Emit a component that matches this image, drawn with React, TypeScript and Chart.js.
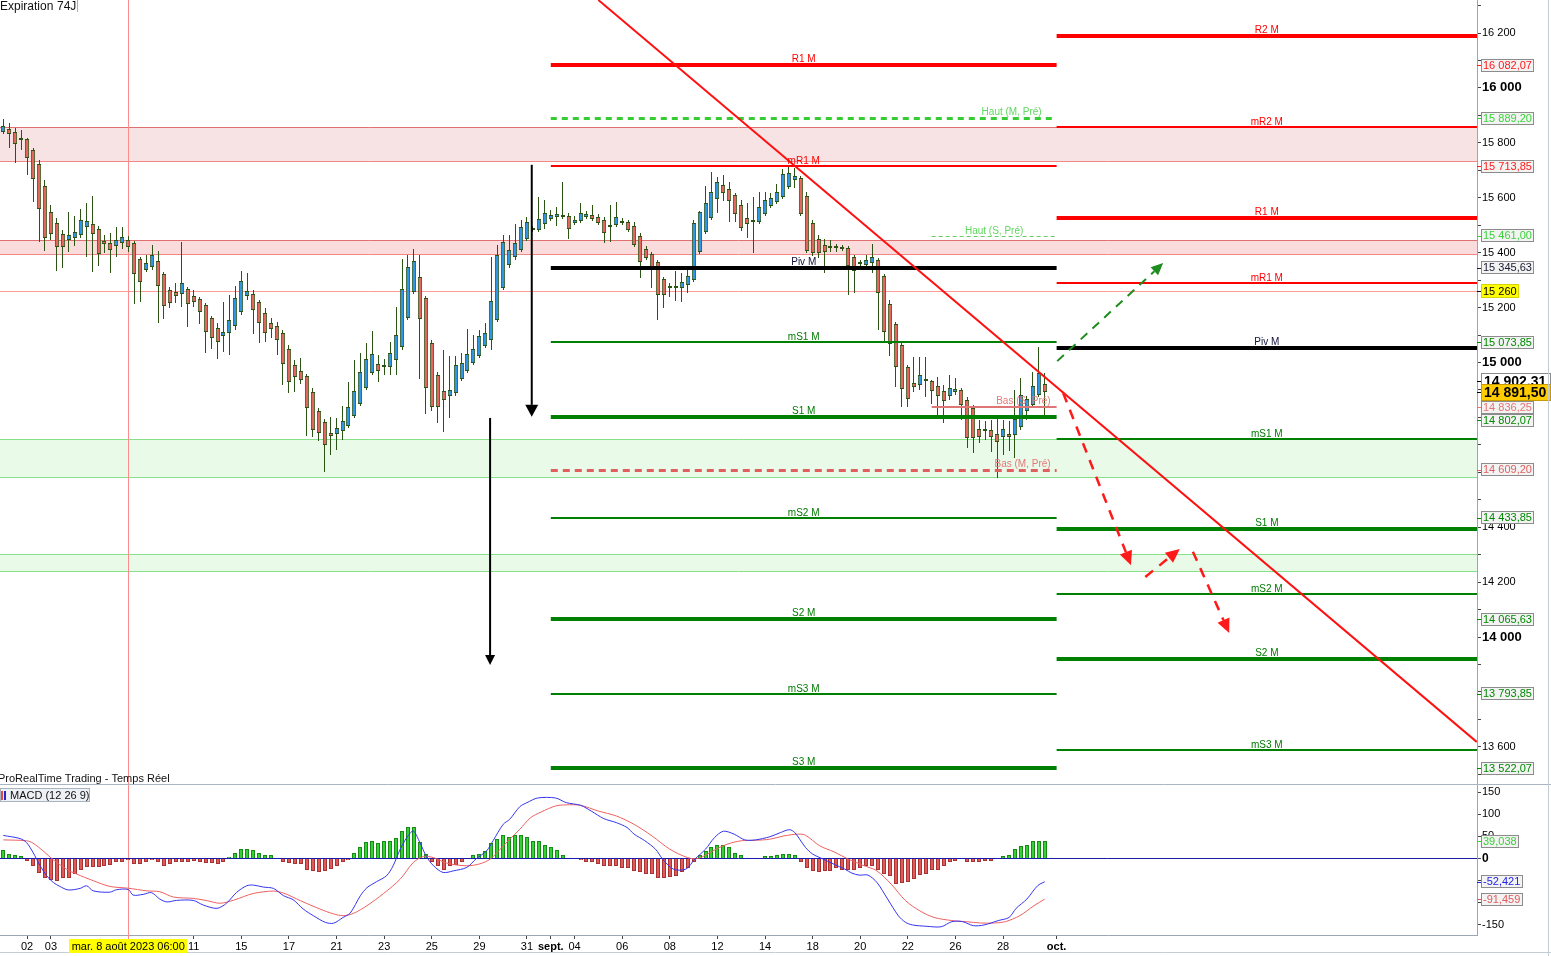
import React, { useEffect, useRef } from 'react';
import { Chart, registerables } from 'chart.js';

Chart.register(...registerables);

const FONT = "'Liberation Sans', Arial, sans-serif";

// ---------------- Candles (4h bars, 1 Aug -> 29 Sep 2023) ----------------
const openP = [15838,15850,15841,15818,15814,15774,15723,15643,15548,15508,
15468,15446,15453,15464,15493,15504,15486,15443,15435,15424,
15435,15446,15435,15377,15337,15348,15370,15322,15264,15257,
15249,15268,15242,15231,15209,15162,15126,15097,15107,15133,
15184,15242,15249,15220,15180,15144,15133,15107,15049,14991,
14969,14951,14893,14823,14783,14743,14739,14750,14769,14805,
14849,14907,14962,14995,14987,14984,15009,15056,15162,15257,
15311,15235,15071,14955,14896,14878,14889,14940,14969,14998,
15024,15060,15082,15155,15271,15355,15384,15410,15450,15486,
15483,15504,15523,15530,15537,15534,15508,15515,15530,15537,
15530,15519,15497,15501,15515,15512,15497,15461,15413,15395,
15366,15304,15275,15275,15271,15282,15300,15402,15475,15526,
15595,15647,15632,15610,15574,15526,15515,15512,15541,15570,
15585,15603,15639,15665,15672,15606,15508,15450,15428,15417,
15417,15416,15417,15384,15359,15355,15362,15373,15315,15213,
15140,15064,14984,14925,14918,14933,14933,14914,14896,14878,
14893,14900,14863,14834,14758,14754,14754,14739,14729,14739,
14736,14765,14823,14845,14882,14922];
const highP = [15887,15872,15854,15847,15818,15781,15738,15665,15574,15526,
15483,15549,15534,15559,15581,15606,15497,15464,15473,15495,
15495,15461,15443,15384,15391,15428,15407,15330,15275,15289,
15440,15275,15264,15239,15217,15169,15144,15220,15246,15279,
15333,15326,15264,15228,15199,15162,15147,15118,15064,15009,
15016,14958,14907,14834,14794,14801,14798,14842,14929,15009,
15035,15071,15115,15027,15013,15075,15202,15377,15391,15413,
15391,15242,15082,14965,15046,15024,15024,15035,15122,15100,
15118,15144,15384,15428,15464,15464,15504,15519,15530,15497,
15603,15592,15555,15566,15657,15545,15534,15581,15552,15574,
15541,15530,15574,15585,15526,15519,15512,15472,15424,15402,
15373,15311,15289,15333,15326,15348,15519,15552,15643,15694,
15676,15683,15657,15617,15592,15581,15603,15621,15621,15617,
15650,15705,15712,15708,15679,15621,15519,15464,15450,15446,
15432,15428,15424,15391,15373,15391,15432,15381,15322,15228,
15147,15071,14991,15020,15020,15020,14936,14947,14918,14955,
14944,14907,14874,14845,14791,14787,14791,14794,14791,14787,
14900,14944,14878,14965,15056,14962];
const lowP = [15832,15781,15727,15774,15683,15586,15440,15407,15446,15334,
15345,15404,15424,15453,15385,15331,15353,15399,15327,15385,
15413,15402,15213,15221,15330,15337,15144,15158,15199,15217,
15202,15129,15202,15140,15035,15049,15013,15038,15027,15118,
15173,15228,15104,15071,15075,15089,15027,14918,14889,14893,
14922,14732,14729,14714,14601,14663,14681,14718,14761,14798,
14842,14900,14955,14929,14955,14955,14955,15046,15155,15249,
14940,14812,14823,14780,14747,14798,14878,14933,14962,14991,
15016,15053,15046,15147,15264,15344,15373,15402,15443,15475,
15475,15486,15515,15497,15523,15450,15501,15508,15523,15515,
15501,15435,15439,15493,15501,15475,15421,15308,15373,15271,
15155,15199,15239,15224,15220,15253,15293,15395,15468,15519,
15545,15588,15512,15512,15479,15453,15399,15504,15534,15563,
15577,15595,15632,15636,15534,15399,15388,15381,15326,15402,
15402,15406,15246,15253,15344,15344,15326,15118,15075,15024,
14911,14838,14838,14893,14900,14874,14849,14809,14780,14863,
14882,14791,14689,14670,14707,14718,14674,14579,14663,14678,
14652,14754,14791,14834,14874,14809];
const closeP = [15862,15831,15796,15810,15745,15668,15559,15453,15468,15421,
15421,15464,15475,15519,15515,15468,15395,15432,15410,15446,
15457,15421,15322,15293,15362,15391,15279,15206,15217,15242,
15289,15213,15220,15184,15111,15089,15075,15111,15155,15235,
15297,15260,15191,15144,15107,15122,15082,14995,14929,14947,
14936,14834,14754,14743,14700,14732,14761,14787,14838,14896,
14965,15013,15031,14969,14984,15035,15100,15268,15348,15370,
15158,14907,14838,14838,14863,14900,14991,14998,15031,15049,
15097,15107,15224,15391,15439,15410,15435,15493,15512,15483,
15523,15545,15537,15541,15530,15486,15519,15545,15541,15523,
15508,15472,15495,15530,15508,15483,15428,15366,15381,15348,
15246,15246,15272,15271,15293,15315,15508,15548,15581,15621,
15657,15617,15588,15541,15490,15504,15512,15566,15592,15599,
15621,15686,15690,15679,15541,15406,15399,15399,15402,15424,
15418,15415,15351,15333,15360,15373,15384,15253,15111,15067,
14984,14903,14867,14911,14955,14931,14896,14878,14860,14907,
14903,14845,14725,14725,14729,14752,14729,14710,14758,14729,
14794,14882,14867,14914,14962,14891.5];

// ---------------- MACD (12 26 9) ----------------
const macdHist = [18.7,11,7.5,4.5,-5,-16.5,-33,-45,-48,-50,
-45,-43,-34,-25.5,-19,-20,-19,-16.5,-14,-9,
-7.5,-3,-13,-12,-7.5,-3,-9,-16,-13,-9,
-7.5,-7.5,-5,-7.5,-11,-11,-12,-7,3,13,
22,22,20,13,9,7,1,-9,-11,-12,
-12,-27,-29,-31,-29,-24,-18,-9,-3,13,
25,37,39,36,39,39,47,63,70,70,
38,11,-7,-16,-25,-18,-14,-7,-2,7,
11,18,34,45,54,49,52,52,48,39,
39,31.5,25,20,9,2,1,-3,-7,-9,
-13.5,-18,-18,-18,-21,-22.5,-29,-30,-34,-36,
-45,-45,-41,-40.5,-31.5,-22.5,-7,9,16,27,
31.5,31.5,25,13.5,7,1,2,2,4.5,4.5,
9,11,11,9,-9,-22.5,-29,-31.5,-29,-29,
-22.5,-25.5,-25.5,-27,-22.5,-18,-18,-25.5,-36,-40.5,
-58.5,-56,-54,-47,-38,-36,-27,-25,-16,-7,
-5,-2,-7,-9,-7.5,-5,-5,2,4.5,7,
22.5,29,31.5,40.5,40.5,39.038];
const macdLineIdx = [0,2.8,3.9,5.0,6.2,7.3,8.4,9.5,10.9,12.9,14.0,15.1,17.9,19.0,21.0,21.8,23.5,24.9,26.3,27.5,
29.1,31.9,33.6,35.9,37.5,39.2,40.9,42.0,43.7,45.4,47.1,48.7,50.4,52.1,54.1,55.5,57.1,58.3,60.0,61.1,
62.7,64.4,65.5,66.7,67.8,68.9,70.0,71.1,72.3,73.9,75.6,77.9,79.5,81.2,82.3,84.0,85.1,86.8,88.0,89.8,
92.8,94.6,97.0,98.8,100.9,103.0,104.8,106.0,107.8,109.6,110.8,112.6,114.7,116.2,118.0,119.5,121.0,122.8,124.6,126.4,
128.8,130.6,132.1,133.0,134.8,136.0,137.8,139.6,141.4,142.6,143.8,145.3,146.8,148.6,150.4,151.6,152.8,155.2,157.6,159.4,
161.2,163.0,164.8,167.2,169.0,170.2,172.0,173.8,175];
const macdLineVal = [52,45,36,13.5,-16.5,-39,-54,-63,-71,-67.5,-61.5,-73,-76,-70.5,-70,-82.5,-81,-77,-91.5,-98,
-94.5,-94.5,-105,-112.5,-101,-76.5,-61.5,-60,-64.5,-67.5,-84,-93,-114,-129,-144,-146,-133,-123,-84,-66,
-52.5,-39,-16.5,21,47,62,36,4.5,-16.5,-31.5,-28,-20,0,17,40,77,88.5,117,126,136.5,
136.5,126,120,107,90,81,70,55,40,21,-1.5,-24,-24,-1.5,21,47,61.5,55,42,42,
49,58.5,65,58.5,25,10,-1.5,-13,-24,-33,-37.5,-37.5,-54,-91.5,-129,-144,-150,-153,-154,-142.5,
-142.5,-151.5,-150,-140,-133,-112.5,-91.5,-61.5,-52.421];
const signalIdx = [0,3.9,5.0,6.7,8.4,10.6,12.3,15.1,17.9,21.0,24.1,26.3,28.6,31.9,34.2,36.4,38.7,42.0,45.4,47.1,
49.9,53.2,55.5,57.1,58.8,61.1,63.9,66.7,68.9,70.6,72.3,74.5,77.9,80.1,81.8,83.5,85.1,86.8,88.6,90.4,
92.8,94.6,97.0,100.0,103.0,106.0,109.0,112.0,115.0,116.8,119.2,121.6,124.0,126.4,128.8,131.2,133.6,134.8,137.2,139.6,
142.0,144.4,146.8,149.2,151.6,154.0,156.4,159.4,161.8,164.2,166.6,168.4,170.8,173.2,175];
const signalVal = [42,40,34.5,17,-3,-24,-35,-50,-63,-67,-73,-75,-87,-90,-95,-101,-94,-79,-73.5,-78,
-95,-114,-125,-129,-124,-106.5,-79,-46.5,-9,4.5,2,-10.5,-16.5,-12,-1.5,21,43.5,66,92,105,
118.5,121,120,107,96,77,51,21,2,0,17,32,40,41,43.5,51,55,52.5,28.5,15,
-1.5,-15,-28,-58,-95,-118,-133,-140,-142.5,-145.5,-145.5,-142.5,-129,-106.5,-91.459];
const macdLast = -52.421;
const signalLast = -91.459;
const histLast = 39.038;

// ---------------- Axes ----------------
const xTickIdx = [4,8,32,40,48,56,64,72,80,88,92,96,104,112,120,128,136,144,152,160,168,177];
const xTickLabels = ['02','03','11','15','17','21','23','25','29','31','sept.','04','06','08','12','14','18','20','22','26','28','oct.'];
const xTickBold = ['sept.','oct.'];
const crossIdx = 21;
const crossLabel = 'mar. 8 août 2023 06:00';
const xMin = -0.555;
const xMax = 247.64;

const priceTicks = [13500,13600,13700,13800,13900,14000,14100,14200,14300,14400,14500,14600,14700,14800,14900,
15000,15100,15200,15300,15400,15500,15600,15700,15800,15900,16000,16100,16200,16300];
const priceMin = 13464.9;
const priceMax = 16320.2;
const macdTicks = [-150,-100,-50,0,50,100,150];
const macdMin = -172.6;
const macdMax = 165.8;

// ---------------- Levels ----------------
const septStartIdx = 92;
const octStartIdx = 177;
const weekStartIdx = 156;
const prevMonthPivotNames = ['R1 M','mR1 M','Piv M','mS1 M','S1 M','mS2 M','S2 M','mS3 M','S3 M'];
const prevMonthPivotValues = [16082.07,15713.85,15345.63,15073.85,14802.07,14433.85,14065.63,13793.85,13522.07];
const newMonthPivotNames = ['R2 M','mR2 M','R1 M','mR1 M','Piv M','mS1 M','S1 M','mS2 M','S2 M','mS3 M'];
const newMonthPivotValues = [16188.7,15858.0,15527.3,15290.5,15053.7,14723.0,14392.3,14155.5,13918.7,13588.0];
const prevMonthHigh = 15889.2;
const prevMonthLow = 14609.2;
const prevWeekHigh = 15461.0;
const prevWeekLow = 14836.25;
const userLevel = 15260;
const bandLow = [15734, 15394, 14582, 14240];
const bandHigh = [15859, 15445, 14720, 14302];
const bandKind = ['pink', 'pink', 'green', 'green'];

const trendIdx = [100, 247.6];
const trendPrice = [16320, 13618];

const arrowFromIdx = [88.8, 81.8, 177.1, 178.1, 191.9, 199.9];
const arrowFromPrice = [15720, 14798, 15005, 14889, 14219, 14311];
const arrowToIdx = [88.8, 81.8, 194.9, 189.5, 197.7, 206.0];
const arrowToPrice = [14802, 13898, 15362, 14262, 14321, 14015];
const arrowColor = ['#000000', '#000000', '#1e8c1e', '#ff1a1a', '#ff1a1a', '#ff1a1a'];
const arrowWidth = [2, 2, 2, 2.5, 2.5, 2.5];
const arrowDash = [[], [], [9, 7], [10, 8], [10, 8], [10, 8]];
const arrowHeadLen = [12, 10, 12, 14, 14, 14];
const arrowHeadW = [13, 10, 11, 13, 13, 13];

const axisBoxValues = [16082.07, 15889.2, 15713.85, 15461.0, 15345.63, 15073.85, 14836.25, 14802.07, 14609.2, 14433.85, 14065.63, 13793.85, 13522.07];
const axisBoxColors = ['#ff1a1a', '#3ad43a', '#ff1a1a', '#3ad43a', '#1a1a33', '#008a00', '#e87474', '#008a00', '#e06060', '#008a00', '#008a00', '#008a00', '#008a00'];
const lastPrice = 14891.5;
const prevQuote = 14902.31;

// ---------------- helpers ----------------
const fmtFr = (v: number, dec: number) => {
  const s = Math.abs(v).toFixed(dec);
  const parts = s.split('.');
  const ip = parts[0].replace(/\B(?=(\d{3})+(?!\d))/g, ' ');
  return (v < 0 ? '-' : '') + ip + (parts[1] ? ',' + parts[1] : '');
};

function hLine(ctx: any, x1: number, x2: number, y: number, w: number, color: string, dash: number[] = []) {
  ctx.save();
  ctx.strokeStyle = color;
  ctx.lineWidth = w;
  ctx.setLineDash(dash);
  const yy = w % 2 === 1 ? Math.round(y) + 0.5 : Math.round(y);
  ctx.beginPath();
  ctx.moveTo(x1, yy);
  ctx.lineTo(x2, yy);
  ctx.stroke();
  ctx.restore();
}

function drawArrow(ctx: any, x1: number, y1: number, x2: number, y2: number, color: string, width: number, dash: number[], headLen: number, headW: number) {
  const ang = Math.atan2(y2 - y1, x2 - x1);
  const bx = x2 - headLen * Math.cos(ang);
  const by = y2 - headLen * Math.sin(ang);
  ctx.save();
  ctx.strokeStyle = color;
  ctx.fillStyle = color;
  ctx.lineWidth = width;
  ctx.setLineDash(dash);
  ctx.beginPath();
  ctx.moveTo(x1, y1);
  ctx.lineTo(bx, by);
  ctx.stroke();
  ctx.setLineDash([]);
  const nx = -Math.sin(ang), ny = Math.cos(ang);
  ctx.beginPath();
  ctx.moveTo(x2, y2);
  ctx.lineTo(bx + nx * headW / 2, by + ny * headW / 2);
  ctx.lineTo(bx - nx * headW / 2, by - ny * headW / 2);
  ctx.closePath();
  ctx.fill();
  ctx.restore();
}

function pivotStyle(name: string) {
  if (name.startsWith('Piv')) return { color: '#000000', width: 4, text: '#10103a' };
  const minor = name.startsWith('m');
  const red = name.indexOf('R') >= 0;
  return { color: red ? '#ff0000' : '#008000', width: minor ? 2 : 4, text: red ? '#ff0000' : '#007a00' };
}

function axisBox(ctx: any, axisX: number, cy: number, text: string, o: any) {
  ctx.save();
  ctx.font = o.font;
  const x0 = axisX + 4;
  const w = o.fullWidth ? o.fullWidth : Math.ceil(ctx.measureText(text).width) + o.padX * 2;
  const h = o.h;
  const top = Math.round(cy - h / 2);
  ctx.strokeStyle = o.tick;
  ctx.lineWidth = 1;
  ctx.beginPath();
  ctx.moveTo(axisX, Math.round(cy) + 0.5);
  ctx.lineTo(x0, Math.round(cy) + 0.5);
  ctx.stroke();
  ctx.fillStyle = o.bg;
  ctx.fillRect(x0, top, w, h);
  if (o.border) {
    ctx.strokeStyle = o.border;
    ctx.strokeRect(x0 + 0.5, top + 0.5, w - 1, h - 1);
  }
  ctx.fillStyle = o.color;
  ctx.textBaseline = 'middle';
  ctx.textAlign = 'left';
  ctx.fillText(text, x0 + o.padX, top + h / 2 + 0.5);
  ctx.restore();
}

// snap bar elements to whole pixels so 1px wicks and 5px bodies stay crisp
const snapBars = {
  id: 'snapBars',
  afterDatasetsUpdate(chart: any) {
    chart.data.datasets.forEach((ds: any, di: number) => {
      const meta = chart.getDatasetMeta(di);
      if (meta.type !== 'bar') return;
      meta.data.forEach((el: any) => {
        const w = el.width;
        const odd = Math.round(w) % 2 === 1;
        el.x = odd ? Math.floor(el.x) + 0.5 : Math.round(el.x);
        el.y = Math.round(el.y);
        el.base = Math.round(el.base);
      });
    });
  },
};

// ---------------- plugins ----------------
const overlayA = {
  id: 'overlayA',
  beforeDatasetsDraw(chart: any) {
    const { ctx, chartArea: ca, scales } = chart;
    const x = scales.x, y = scales.y;
    ctx.save();
    ctx.beginPath();
    ctx.rect(ca.left, ca.top, ca.right - ca.left, ca.bottom - ca.top);
    ctx.clip();
    bandLow.forEach((lo, i) => {
      const yt = Math.round(y.getPixelForValue(bandHigh[i]));
      const yb = Math.round(y.getPixelForValue(lo));
      const pink = bandKind[i] === 'pink';
      ctx.fillStyle = pink ? (i === 0 ? '#f7e3e3' : '#fbdcdc') : '#e9fae9';
      ctx.fillRect(ca.left, yt, ca.right - ca.left, yb - yt);
      hLine(ctx, ca.left, ca.right, yt, 1, pink ? '#e07070' : '#88e088');
      hLine(ctx, ca.left, ca.right, yb, 1, pink ? '#f08888' : '#88e088');
    });
    hLine(ctx, ca.left, ca.right, y.getPixelForValue(userLevel), 1, '#ff9a9a');
    const cx = Math.round(x.getPixelForValue(crossIdx)) + 0.5;
    ctx.strokeStyle = '#ff8c8c';
    ctx.lineWidth = 1;
    ctx.beginPath();
    ctx.moveTo(cx, ca.top);
    ctx.lineTo(cx, ca.bottom);
    ctx.stroke();
    ctx.restore();
  },
  afterDatasetsDraw(chart: any) {
    const { ctx, chartArea: ca, scales } = chart;
    const x = scales.x, y = scales.y;
    ctx.save();
    ctx.beginPath();
    ctx.rect(ca.left, ca.top, ca.right - ca.left, ca.bottom - ca.top);
    ctx.clip();
    const xs = x.getPixelForValue(septStartIdx);
    const xo = x.getPixelForValue(octStartIdx);
    const xw = x.getPixelForValue(weekStartIdx);
    hLine(ctx, xw, xo, y.getPixelForValue(prevWeekHigh), 1, '#66cc66', [4, 3]);
    hLine(ctx, xw, xo, y.getPixelForValue(prevWeekLow), 2, '#e07575');
    hLine(ctx, xs, xo, y.getPixelForValue(prevMonthHigh), 3, '#33cc33', [6, 5]);
    hLine(ctx, xs, xo, y.getPixelForValue(prevMonthLow), 3, '#e06060', [7, 5]);
    prevMonthPivotValues.forEach((v, i) => {
      const st = pivotStyle(prevMonthPivotNames[i]);
      hLine(ctx, xs, xo, y.getPixelForValue(v), st.width, st.color);
    });
    newMonthPivotValues.forEach((v, i) => {
      const st = pivotStyle(newMonthPivotNames[i]);
      hLine(ctx, xo, ca.right, y.getPixelForValue(v), st.width, st.color);
    });
    ctx.strokeStyle = '#ff1010';
    ctx.lineWidth = 2;
    ctx.setLineDash([]);
    ctx.beginPath();
    ctx.moveTo(x.getPixelForValue(trendIdx[0]), y.getPixelForValue(trendPrice[0]));
    ctx.lineTo(x.getPixelForValue(trendIdx[1]), y.getPixelForValue(trendPrice[1]));
    ctx.stroke();
    arrowFromIdx.forEach((fx, i) => {
      drawArrow(ctx, x.getPixelForValue(fx), y.getPixelForValue(arrowFromPrice[i]),
        x.getPixelForValue(arrowToIdx[i]), y.getPixelForValue(arrowToPrice[i]),
        arrowColor[i], arrowWidth[i], arrowDash[i], arrowHeadLen[i], arrowHeadW[i]);
    });
    ctx.font = '10px ' + FONT;
    ctx.textBaseline = 'alphabetic';
    ctx.textAlign = 'center';
    const midL = (xs + xo) / 2, midR = (xo + ca.right) / 2;
    prevMonthPivotValues.forEach((v, i) => {
      const st = pivotStyle(prevMonthPivotNames[i]);
      ctx.fillStyle = st.text;
      ctx.fillText(prevMonthPivotNames[i], midL, Math.round(y.getPixelForValue(v)) - st.width / 2 - 1);
    });
    newMonthPivotValues.forEach((v, i) => {
      const st = pivotStyle(newMonthPivotNames[i]);
      ctx.fillStyle = st.text;
      ctx.fillText(newMonthPivotNames[i], midR, Math.round(y.getPixelForValue(v)) - st.width / 2 - 1);
    });
    ctx.fillStyle = '#5fd85f';
    ctx.fillText('Haut (S, Pré)', (xw + xo) / 2, Math.round(y.getPixelForValue(prevWeekHigh)) - 2);
    ctx.textAlign = 'right';
    ctx.fillText('Haut (M, Pré)', xo - 15, Math.round(y.getPixelForValue(prevMonthHigh)) - 3);
    ctx.fillStyle = '#e87878';
    ctx.fillText('Bas (S, Pré)', xo - 6, Math.round(y.getPixelForValue(prevWeekLow)) - 3);
    ctx.fillText('Bas (M, Pré)', xo - 6, Math.round(y.getPixelForValue(prevMonthLow)) - 3);
    ctx.restore();

    ctx.save();
    ctx.fillStyle = '#111';
    ctx.textAlign = 'left';
    ctx.textBaseline = 'alphabetic';
    ctx.font = '12px ' + FONT;
    ctx.fillText('Expiration', 0, 10);
    ctx.fillText('74J', 57, 10);
    ctx.strokeStyle = '#a8b0b8';
    ctx.beginPath();
    ctx.moveTo(77.5, 0);
    ctx.lineTo(77.5, 12);
    ctx.stroke();
    ctx.font = '11px ' + FONT;
    ctx.fillText('ProRealTime Trading - Temps Réel', -2, 782);
    ctx.restore();
  },
  afterDraw(chart: any) {
    const { ctx, chartArea: ca, scales } = chart;
    const y = scales.y;
    const items = axisBoxValues.map((v, i) => ({ v, yy: y.getPixelForValue(v), color: axisBoxColors[i] }))
      .sort((a, b) => a.yy - b.yy);
    for (let k = 1; k < items.length; k++) {
      if (items[k].yy - items[k - 1].yy < 13) items[k].yy = items[k - 1].yy + 13;
    }
    items.forEach((it) => {
      axisBox(ctx, ca.right, it.yy, fmtFr(it.v, 2), { font: '11px ' + FONT, padX: 2, h: 13, bg: '#f3f3f3', border: '#8c8c8c', color: it.color, tick: it.color });
    });
    axisBox(ctx, ca.right, y.getPixelForValue(userLevel), fmtFr(userLevel, 0), { font: '11px ' + FONT, padX: 2, h: 14, bg: '#ffff00', border: '#d6d600', color: '#000', tick: '#000' });
    axisBox(ctx, ca.right, y.getPixelForValue(prevQuote) - 8, fmtFr(prevQuote, 2), { font: 'bold 14px ' + FONT, padX: 3, h: 17, bg: '#ffffff', border: '#8c8c8c', color: '#000', tick: '#000', fullWidth: 70 });
    axisBox(ctx, ca.right, y.getPixelForValue(lastPrice), fmtFr(lastPrice, 2), { font: 'bold 14px ' + FONT, padX: 3, h: 17, bg: '#ffcc00', border: '#c89a00', color: '#000', tick: '#000', fullWidth: 70 });
    ctx.save();
    ctx.strokeStyle = '#c4ccd4';
    ctx.beginPath();
    ctx.moveTo(1548.5, 0);
    ctx.lineTo(1548.5, chart.height);
    ctx.stroke();
    ctx.restore();
  },
};

const overlayB = {
  id: 'overlayB',
  beforeDatasetsDraw(chart: any) {
    const { ctx, chartArea: ca, scales } = chart;
    const x = scales.x, y = scales.y;
    ctx.save();
    const cx = Math.round(x.getPixelForValue(crossIdx)) + 0.5;
    ctx.strokeStyle = '#ff8c8c';
    ctx.lineWidth = 1;
    ctx.beginPath();
    ctx.moveTo(cx, 0);
    ctx.lineTo(cx, ca.bottom + 4);
    ctx.stroke();
    hLine(ctx, ca.left, ca.right, y.getPixelForValue(0), 1, '#1a1aa8');
    ctx.restore();
  },
  afterDraw(chart: any) {
    const { ctx, chartArea: ca, scales } = chart;
    const x = scales.x, y = scales.y;
    hLine(ctx, 0, chart.width, 0, 1, '#a9b6c2');
    hLine(ctx, 0, chart.width, 168, 1, '#c4ccd4');
    ctx.save();
    ctx.strokeStyle = '#c4ccd4';
    ctx.beginPath();
    ctx.moveTo(1548.5, 0);
    ctx.lineTo(1548.5, chart.height);
    ctx.stroke();
    ctx.restore();
    axisBox(ctx, ca.right, y.getPixelForValue(histLast), fmtFr(histLast, 3), { font: '11px ' + FONT, padX: 2, h: 13, bg: '#f3f3f3', border: '#8c8c8c', color: '#3ccf3c', tick: '#3ccf3c' });
    axisBox(ctx, ca.right, y.getPixelForValue(macdLast), fmtFr(macdLast, 3), { font: '11px ' + FONT, padX: 2, h: 13, bg: '#f3f3f3', border: '#8c8c8c', color: '#2323e8', tick: '#2323e8' });
    axisBox(ctx, ca.right, y.getPixelForValue(signalLast), fmtFr(signalLast, 3), { font: '11px ' + FONT, padX: 2, h: 13, bg: '#f3f3f3', border: '#8c8c8c', color: '#e05c5c', tick: '#e05c5c' });
    ctx.save();
    ctx.fillStyle = '#edf1f5';
    ctx.fillRect(0, 4, 90, 14);
    ctx.strokeStyle = '#a9b3bd';
    ctx.strokeRect(0.5, 4.5, 89, 13);
    ctx.fillStyle = '#e04848';
    ctx.fillRect(1, 7, 2, 9);
    ctx.fillStyle = '#2424d0';
    ctx.fillRect(4, 7, 2, 9);
    ctx.fillStyle = '#111';
    ctx.font = '11px ' + FONT;
    ctx.textBaseline = 'middle';
    ctx.textAlign = 'left';
    ctx.fillText('MACD (12 26 9)', 10, 11.5);
    ctx.font = '11px ' + FONT;
    const cx = x.getPixelForValue(crossIdx);
    const w = Math.ceil(ctx.measureText(crossLabel).width) + 4;
    ctx.fillStyle = '#ffff00';
    ctx.fillRect(Math.round(cx - w / 2), 155, w, 14);
    ctx.fillStyle = '#000';
    ctx.textAlign = 'center';
    ctx.fillText(crossLabel, cx, 162.5);
    ctx.restore();
  },
};

function yAxisFit(scale: any) {
  scale.width = 74;
  scale.paddingTop = 0;
  scale.paddingBottom = 0;
}

export default function App() {
  const refA = useRef<HTMLCanvasElement>(null);
  const refB = useRef<HTMLCanvasElement>(null);

  useEffect(() => {
    const bodyColors = openP.map((o, i) => (closeP[i] >= o ? '#2f95e6' : '#e4675f'));
    const chartA = new Chart(refA.current as HTMLCanvasElement, {
      type: 'bar',
      data: {
        datasets: [
          {
            label: 'bodies',
            data: openP.map((o, i) => ({ x: i, y: [o, closeP[i]] })) as any,
            backgroundColor: bodyColors,
            borderColor: '#2b5314',
            borderWidth: 1,
            borderSkipped: false,
            maxBarThickness: 5,
            minBarLength: 2,
            grouped: false,
            order: 1,
          } as any,
          {
            label: 'wicks',
            data: openP.map((_, i) => ({ x: i, y: [lowP[i], highP[i]] })) as any,
            backgroundColor: '#2b5314',
            borderWidth: 0,
            maxBarThickness: 1,
            grouped: false,
            order: 2,
          } as any,
        ],
      },
      options: {
        responsive: false,
        animation: false,
        devicePixelRatio: 1,
        layout: { padding: 0 },
        events: [],
        plugins: { legend: { display: false }, tooltip: { enabled: false } },
        scales: {
          x: { type: 'linear', display: false, min: xMin, max: xMax, offset: false, grid: { offset: false } },
          y: {
            position: 'right',
            min: priceMin,
            max: priceMax,
            afterFit: yAxisFit,
            afterBuildTicks: (s: any) => { s.ticks = priceTicks.map((v) => ({ value: v })); },
            ticks: {
              autoSkip: false,
              padding: 1,
              color: '#000',
              font: (c: any) => {
                const big = c.tick && c.tick.value % 1000 === 0;
                return { family: FONT, size: big ? 13 : 11, weight: big ? 'bold' : 'normal' };
              },
              callback: (v: any) => (Number(v) % 200 === 0 ? fmtFr(Number(v), 0) : ''),
            },
            grid: { drawOnChartArea: false, drawTicks: true, tickLength: 4, color: '#444' },
            border: { color: '#9aa6b2' },
          },
        },
      } as any,
      plugins: [snapBars, overlayA],
    });

    const chartB = new Chart(refB.current as HTMLCanvasElement, {
      type: 'bar',
      data: {
        datasets: [
          {
            type: 'line',
            label: 'MACD',
            data: macdLineIdx.map((xv, i) => ({ x: xv, y: macdLineVal[i] })),
            borderColor: '#3434ee',
            borderWidth: 1,
            pointRadius: 0,
            tension: 0.3,
            order: 1,
          } as any,
          {
            type: 'line',
            label: 'Signal',
            data: signalIdx.map((xv, i) => ({ x: xv, y: signalVal[i] })),
            borderColor: '#ee6060',
            borderWidth: 1,
            pointRadius: 0,
            tension: 0.3,
            order: 2,
          } as any,
          {
            type: 'bar',
            label: 'Hist',
            data: macdHist.map((v, i) => ({ x: i, y: v })),
            backgroundColor: macdHist.map((v) => (v >= 0 ? '#35d035' : '#e05a5a')),
            borderColor: macdHist.map((v) => (v >= 0 ? '#158a15' : '#a83232')),
            borderWidth: 1,
            maxBarThickness: 4,
            grouped: false,
            order: 3,
          } as any,
        ],
      },
      options: {
        responsive: false,
        animation: false,
        devicePixelRatio: 1,
        layout: { padding: { top: 1, left: 0, right: 0, bottom: 0 } },
        events: [],
        plugins: { legend: { display: false }, tooltip: { enabled: false } },
        scales: {
          x: {
            type: 'linear',
            min: xMin,
            max: xMax,
            offset: false,
            afterFit: (s: any) => { s.height = 21; s.paddingLeft = 0; s.paddingRight = 0; },
            afterBuildTicks: (s: any) => { s.ticks = xTickIdx.map((v) => ({ value: v })); },
            ticks: {
              autoSkip: false,
              maxRotation: 0,
              minRotation: 0,
              padding: 1,
              color: '#000',
              font: (c: any) => ({ family: FONT, size: 11, weight: xTickBold.indexOf(xTickLabels[c.index]) >= 0 ? 'bold' : 'normal' }),
              callback: (_v: any, i: number) => xTickLabels[i],
            },
            grid: { drawOnChartArea: false, drawTicks: true, tickLength: 4, color: '#444', offset: false },
            border: { color: '#9aa6b2' },
          },
          y: {
            position: 'right',
            min: macdMin,
            max: macdMax,
            afterFit: yAxisFit,
            afterBuildTicks: (s: any) => { s.ticks = macdTicks.map((v) => ({ value: v })); },
            ticks: {
              autoSkip: false,
              padding: 1,
              color: '#000',
              font: (c: any) => {
                const z = c.tick && c.tick.value === 0;
                return { family: FONT, size: z ? 12 : 11, weight: z ? 'bold' : 'normal' };
              },
              callback: (v: any) => String(v),
            },
            grid: { drawOnChartArea: false, drawTicks: true, tickLength: 4, color: '#444' },
            border: { color: '#9aa6b2' },
          },
        },
      } as any,
      plugins: [snapBars, overlayB],
    });

    return () => {
      chartA.destroy();
      chartB.destroy();
    };
  }, []);

  return (
    <div style={{ position: 'fixed', left: 0, top: 0, width: 1551, height: 956, background: '#ffffff', overflow: 'hidden' }}>
      <canvas ref={refA} width={1551} height={784} style={{ position: 'absolute', left: 0, top: 0, width: 1551, height: 784 }} />
      <canvas ref={refB} width={1551} height={172} style={{ position: 'absolute', left: 0, top: 784, width: 1551, height: 172 }} />
    </div>
  );
}
